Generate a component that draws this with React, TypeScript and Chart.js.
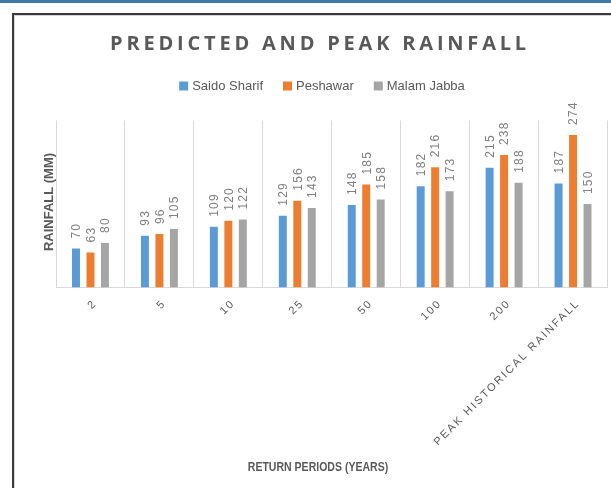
import React, { useEffect, useRef } from "react";
import { Chart, registerables } from "chart.js";

Chart.register(...registerables);

// ---- data ----
const categories = ["2", "5", "10", "25", "50", "100", "200", "PEAK HISTORICAL RAINFALL"];
const saidoSharif = [70, 93, 109, 129, 148, 182, 215, 187];
const peshawar = [63, 96, 120, 156, 185, 216, 238, 274];
const malamJabba = [80, 105, 122, 143, 158, 173, 188, 150];
const seriesNames = ["Saido Sharif", "Peshawar", "Malam Jabba"];
const seriesColors = ["#5b9bd5", "#ed7d31", "#a5a5a5"];
const chartTitle = "PREDICTED AND PEAK RAINFALL";
const xAxisTitle = "RETURN PERIODS (YEARS)";
const yAxisTitle = "RAINFALL (MM)";
const yMin = 0;
const yMax = 300;

const TEXT_DARK = "#595959";
const LABEL_GREY = "#808080";

const textPlugin = {
  id: "excelText",
  afterDatasetsDraw(chart: any) {
    const ctx = chart.ctx as CanvasRenderingContext2D;
    ctx.save();
    ctx.font = "12px 'Liberation Sans', Arial, sans-serif";
    ctx.fillStyle = LABEL_GREY;
    (ctx as any).letterSpacing = "1.2px";
    ctx.textAlign = "left";
    ctx.textBaseline = "alphabetic";
    chart.data.datasets.forEach((ds: any, i: number) => {
      const meta = chart.getDatasetMeta(i);
      meta.data.forEach((bar: any, j: number) => {
        const v = ds.data[j];
        ctx.save();
        ctx.translate(bar.x, bar.y - 10);
        ctx.rotate(-Math.PI / 2);
        ctx.fillText(String(v), 0, 4.3);
        ctx.restore();
      });
    });
    ctx.restore();
  },
  afterDraw(chart: any) {
    const ctx = chart.ctx as CanvasRenderingContext2D;
    const xScale = chart.scales.x;
    const area = chart.chartArea;

    // Title
    ctx.save();
    ctx.font = "bold 20px 'Open Sans', 'Liberation Sans', sans-serif";
    (ctx as any).letterSpacing = "3.8px";
    ctx.fillStyle = TEXT_DARK;
    ctx.textAlign = "center";
    ctx.textBaseline = "alphabetic";
    ctx.fillText(chartTitle, 320, 50);
    ctx.restore();

    // Legend
    ctx.save();
    ctx.font = "13px 'Liberation Sans', Arial, sans-serif";
    ctx.textBaseline = "middle";
    ctx.textAlign = "left";
    const box = 9, gapBox = 4, gapItem = 20;
    const widths = chart.data.datasets.map((d: any) => ctx.measureText(d.label).width);
    const total =
      widths.reduce((a: number, b: number) => a + b, 0) +
      chart.data.datasets.length * (box + gapBox) +
      gapItem * (chart.data.datasets.length - 1);
    let lx = 322 - total / 2;
    const ly = 86;
    chart.data.datasets.forEach((d: any, i: number) => {
      ctx.fillStyle = d.backgroundColor;
      ctx.fillRect(lx, ly - box / 2, box, box);
      lx += box + gapBox;
      ctx.fillStyle = TEXT_DARK;
      ctx.fillText(d.label, lx, ly + 0.5);
      lx += widths[i] + gapItem;
    });
    ctx.restore();

    // X tick labels
    ctx.save();
    ctx.font = "11px 'Liberation Sans', Arial, sans-serif";
    (ctx as any).letterSpacing = "2px";
    ctx.fillStyle = TEXT_DARK;
    ctx.textAlign = "right";
    ctx.textBaseline = "middle";
    chart.data.labels.forEach((lab: string, i: number) => {
      const x = xScale.getPixelForTick(i);
      ctx.save();
      ctx.translate(x + 5, area.bottom + 14);
      ctx.rotate(-Math.PI / 4);
      ctx.fillText(lab, 0, 0);
      ctx.restore();
    });
    ctx.restore();

    // Axis titles
    ctx.save();
    ctx.font = "bold 13px 'Liberation Sans', Arial, sans-serif";
    ctx.fillStyle = TEXT_DARK;
    ctx.textAlign = "center";
    ctx.textBaseline = "alphabetic";
    ctx.save();
    ctx.translate(318, 471);
    ctx.scale(0.81, 1);
    ctx.fillText(xAxisTitle, 0, 0);
    ctx.restore();
    ctx.translate(52.7, 202);
    ctx.rotate(-Math.PI / 2);
    ctx.fillText(yAxisTitle, 0, 0);
    ctx.restore();
  },
};

export default function App() {
  const ref = useRef<HTMLCanvasElement>(null);

  useEffect(() => {
    const series = [saidoSharif, peshawar, malamJabba];
    const chart = new Chart(ref.current as HTMLCanvasElement, {
      type: "bar",
      data: {
        labels: categories,
        datasets: series.map((data, i) => ({
          label: seriesNames[i],
          data,
          backgroundColor: seriesColors[i],
          borderWidth: 0,
          categoryPercentage: 0.63,
          barPercentage: 0.55,
        })),
      },
      options: {
        animation: false,
        responsive: false,
        devicePixelRatio: 1,
        layout: { padding: { left: 56, top: 120.5, right: 3.5, bottom: 200.5 } },
        plugins: {
          legend: { display: false },
          title: { display: false },
          tooltip: { enabled: false },
        },
        scales: {
          x: {
            grid: { color: "#d9d9d9", drawTicks: false, offset: true, lineWidth: 1 },
            border: { color: "#d9d9d9", width: 1 },
            ticks: { display: false },
          },
          y: { display: false, min: yMin, max: yMax },
        },
      },
      plugins: [textPlugin],
    } as any);
    return () => chart.destroy();
  }, []);

  return (
    <div style={{ position: "fixed", left: 0, top: 0, width: 611, height: 488, overflow: "hidden", background: "#ffffff" }}>
      <div style={{ position: "absolute", left: 0, top: 0, width: 611, height: 3, background: "#3d7aa3" }} />
      <div
        style={{
          position: "absolute",
          left: 12,
          top: 13,
          width: 700,
          height: 600,
          borderLeft: "2px solid #3a3a3a",
          borderTop: "2px solid #3a3a3a",
          boxShadow: "inset 1px 1px 0 #d6d6d6",
        }}
      />
      <canvas ref={ref} width={611} height={488} style={{ position: "absolute", left: 0, top: 0, display: "block" }} />
    </div>
  );
}
